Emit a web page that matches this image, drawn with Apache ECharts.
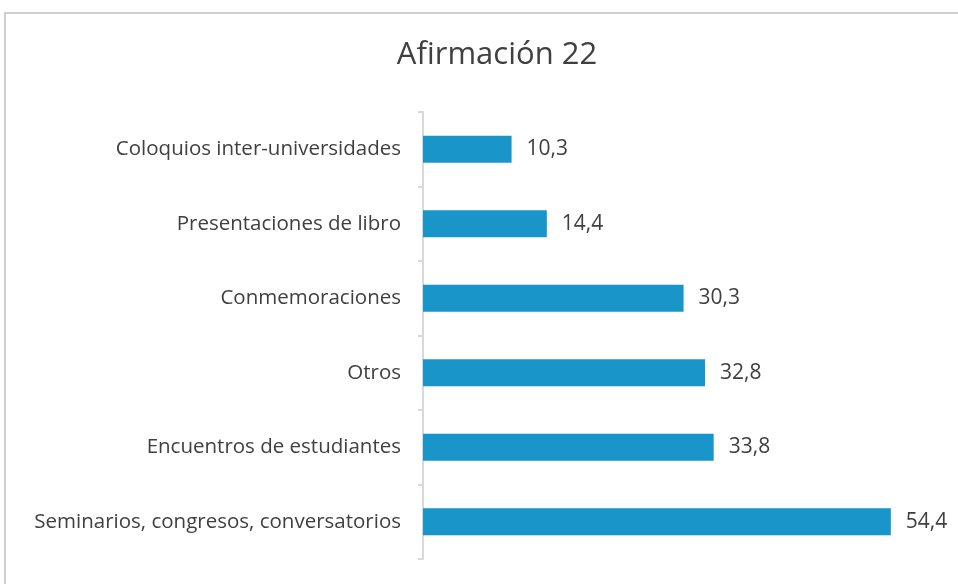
<!DOCTYPE html>
<html><head><meta charset="utf-8">
<script src="https://cdn.jsdelivr.net/npm/echarts@6/dist/echarts.min.js"></script>
<style>html,body{margin:0;padding:0;background:#fff;}#c{width:958px;height:584px;}</style>
</head><body><div id="c"></div>
<script>
const categories = ["Seminarios, congresos, conversatorios","Encuentros de estudiantes","Otros","Conmemoraciones","Presentaciones de libro","Coloquios inter-universidades"];
const values = [54.4, 33.8, 32.8, 30.3, 14.4, 10.3];
const titleText = "Afirmación 22";
const chart = echarts.init(document.getElementById('c'));
chart.setOption({
  animation:false,
  backgroundColor:'#fff',
  graphic:[{type:'polyline',shape:{points:[[5,584],[5,13],[958,13]]},style:{stroke:'#cfcfcf',lineWidth:2,fill:null}}],
  title:{text:titleText,left:492,top:35,textAlign:'center',textStyle:{fontFamily:'Open Sans',fontWeight:'normal',fontSize:31,color:'#404040'}},
  grid:{left:423,right:19,top:112,bottom:25,containLabel:false},
  xAxis:{type:'value',min:0,max:60,show:false},
  yAxis:{type:'category',data:categories,axisLine:{lineStyle:{color:'#d9d9d9',width:2}},axisTick:{show:true,length:5,lineStyle:{color:'#d9d9d9',width:2}},
    axisLabel:{margin:22,fontFamily:'Open Sans',fontSize:20.5,color:'#404040'}},
  series:[{type:'bar',data:values,barWidth:27,itemStyle:{color:'#1a95c9'},
    label:{show:true,position:'right',distance:15,fontFamily:'Open Sans',fontSize:21,color:'#404040',formatter:p=>p.value.toFixed(1).replace('.',',')}}]
});
</script></body></html>
